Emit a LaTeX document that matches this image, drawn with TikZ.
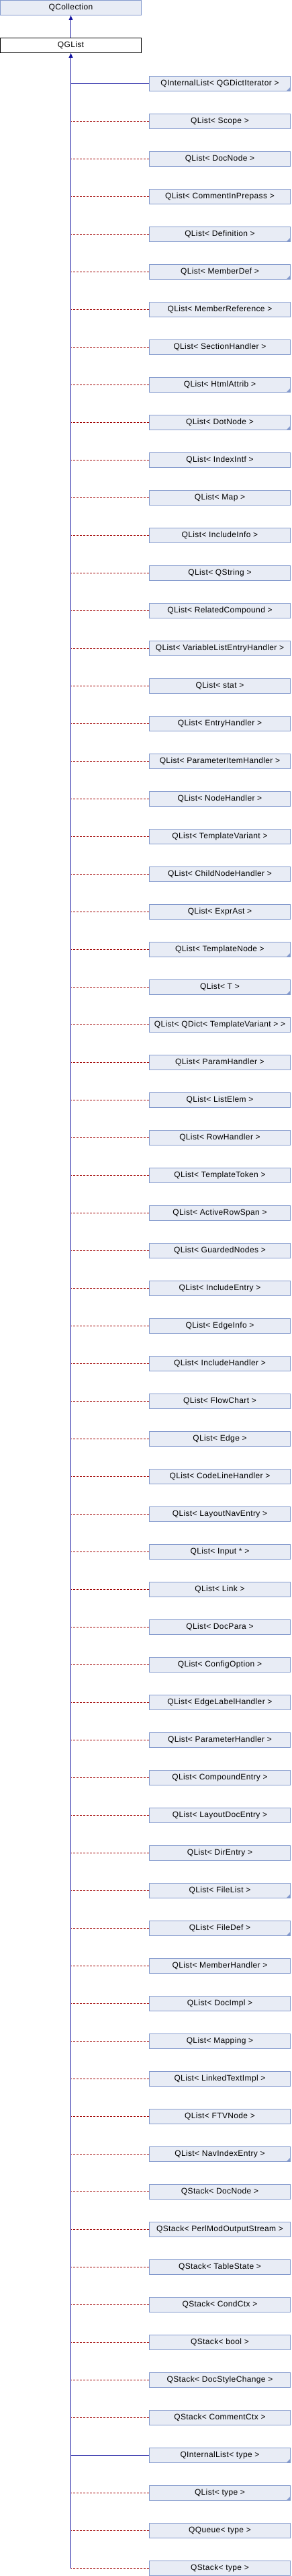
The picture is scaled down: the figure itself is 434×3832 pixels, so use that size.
\documentclass[tikz,border=0pt]{standalone}
\usepackage{fontspec}
\setmainfont{Liberation Sans}
\newfontfamily\doxfont[LetterSpace=3]{Liberation Sans}
\usetikzlibrary{positioning, arrows.meta}
\definecolor{boxfill}{RGB}{232,236,245}
\definecolor{boxline}{RGB}{132,154,205}
\definecolor{pubblue}{RGB}{20,20,160}
\definecolor{tmplred}{RGB}{160,0,0}
\tikzset{
    >={Triangle[length=7pt,width=6pt]}, % filled triangle heads
    node distance=56pt, % one row of the diagram
    cls/.style={
        rectangle, draw=boxline, fill=boxfill, line width=1pt, inner sep=0pt,
        minimum width=210pt, minimum height=22pt, font=\doxfont\fontsize{12}{14}\selectfont,
    },
    folded/.style={ % small corner for classes with more children
        path picture={\fill[boxline] (path picture bounding box.south east) -- ++(-6pt,0) -- ++(6pt,6pt) -- cycle;}
    },
}
\tikzset{pub/.style={draw=pubblue, line width=1pt},
    tmpl/.style={draw=tmplred, line width=1pt, dash pattern=on 3pt off 2pt}
}

\begin{document}
\begin{tikzpicture}[x=1pt, y=1pt]
        \useasboundingbox (0,0) rectangle (434,-3832);
        % Nodes
        \node[cls] (qcoll) at (105.5,-11.5) {QCollection};
        \node[cls, draw=black, fill=white, below of=qcoll] (qglist) {QGList};

        \node[cls, folded] (c1) at (327.5,-124.5) {QInternalList< QGDictIterator >};
        \node[cls, below of=c1] (c2) {QList< Scope >};
        \node[cls, below of=c2] (c3) {QList< DocNode >};
        \node[cls, below of=c3] (c4) {QList< CommentInPrepass >};
        \node[cls, folded, below of=c4] (c5) {QList< Definition >};
        \node[cls, folded, below of=c5] (c6) {QList< MemberDef >};
        \node[cls, below of=c6] (c7) {QList< MemberReference >};
        \node[cls, below of=c7] (c8) {QList< SectionHandler >};
        \node[cls, folded, below of=c8] (c9) {QList< HtmlAttrib >};
        \node[cls, folded, below of=c9] (c10) {QList< DotNode >};
        \node[cls, below of=c10] (c11) {QList< IndexIntf >};
        \node[cls, below of=c11] (c12) {QList< Map >};
        \node[cls, below of=c12] (c13) {QList< IncludeInfo >};
        \node[cls, below of=c13] (c14) {QList< QString >};
        \node[cls, below of=c14] (c15) {QList< RelatedCompound >};
        \node[cls, below of=c15] (c16) {QList< VariableListEntryHandler >};
        \node[cls, below of=c16] (c17) {QList< stat >};
        \node[cls, below of=c17] (c18) {QList< EntryHandler >};
        \node[cls, below of=c18] (c19) {QList< ParameterItemHandler >};
        \node[cls, below of=c19] (c20) {QList< NodeHandler >};
        \node[cls, below of=c20] (c21) {QList< TemplateVariant >};
        \node[cls, below of=c21] (c22) {QList< ChildNodeHandler >};
        \node[cls, below of=c22] (c23) {QList< ExprAst >};
        \node[cls, folded, below of=c23] (c24) {QList< TemplateNode >};
        \node[cls, folded, below of=c24] (c25) {QList< T >};
        \node[cls, below of=c25] (c26) {QList< QDict< TemplateVariant > >};
        \node[cls, below of=c26] (c27) {QList< ParamHandler >};
        \node[cls, below of=c27] (c28) {QList< ListElem >};
        \node[cls, below of=c28] (c29) {QList< RowHandler >};
        \node[cls, below of=c29] (c30) {QList< TemplateToken >};
        \node[cls, below of=c30] (c31) {QList< ActiveRowSpan >};
        \node[cls, below of=c31] (c32) {QList< GuardedNodes >};
        \node[cls, below of=c32] (c33) {QList< IncludeEntry >};
        \node[cls, below of=c33] (c34) {QList< EdgeInfo >};
        \node[cls, below of=c34] (c35) {QList< IncludeHandler >};
        \node[cls, below of=c35] (c36) {QList< FlowChart >};
        \node[cls, below of=c36] (c37) {QList< Edge >};
        \node[cls, below of=c37] (c38) {QList< CodeLineHandler >};
        \node[cls, below of=c38] (c39) {QList< LayoutNavEntry >};
        \node[cls, below of=c39] (c40) {QList< Input * >};
        \node[cls, below of=c40] (c41) {QList< Link >};
        \node[cls, below of=c41] (c42) {QList< DocPara >};
        \node[cls, below of=c42] (c43) {QList< ConfigOption >};
        \node[cls, below of=c43] (c44) {QList< EdgeLabelHandler >};
        \node[cls, below of=c44] (c45) {QList< ParameterHandler >};
        \node[cls, below of=c45] (c46) {QList< CompoundEntry >};
        \node[cls, below of=c46] (c47) {QList< LayoutDocEntry >};
        \node[cls, below of=c47] (c48) {QList< DirEntry >};
        \node[cls, folded, below of=c48] (c49) {QList< FileList >};
        \node[cls, folded, below of=c49] (c50) {QList< FileDef >};
        \node[cls, below of=c50] (c51) {QList< MemberHandler >};
        \node[cls, below of=c51] (c52) {QList< DocImpl >};
        \node[cls, below of=c52] (c53) {QList< Mapping >};
        \node[cls, below of=c53] (c54) {QList< LinkedTextImpl >};
        \node[cls, below of=c54] (c55) {QList< FTVNode >};
        \node[cls, folded, below of=c55] (c56) {QList< NavIndexEntry >};
        \node[cls, below of=c56] (c57) {QStack< DocNode >};
        \node[cls, below of=c57] (c58) {QStack< PerlModOutputStream >};
        \node[cls, below of=c58] (c59) {QStack< TableState >};
        \node[cls, below of=c59] (c60) {QStack< CondCtx >};
        \node[cls, below of=c60] (c61) {QStack< bool >};
        \node[cls, below of=c61] (c62) {QStack< DocStyleChange >};
        \node[cls, below of=c62] (c63) {QStack< CommentCtx >};
        \node[cls, folded, below of=c63] (c64) {QInternalList< type >};
        \node[cls, folded, below of=c64] (c65) {QList< type >};
        \node[cls, below of=c65] (c66) {QQueue< type >};
        \node[cls, below of=c66] (c67) {QStack< type >};

        % Draw lines
        \draw[pub, <-] (qcoll) -- (qglist);
        \draw[pub, <-] (qglist) -- (qglist |- c67.west);
        \draw
            (c1.west) edge[pub] (c1.west -| qglist.south)
            (c2.west) edge[tmpl] (c2.west -| qglist.south)
            (c3.west) edge[tmpl] (c3.west -| qglist.south)
            (c4.west) edge[tmpl] (c4.west -| qglist.south)
            (c5.west) edge[tmpl] (c5.west -| qglist.south)
            (c6.west) edge[tmpl] (c6.west -| qglist.south)
            (c7.west) edge[tmpl] (c7.west -| qglist.south)
            (c8.west) edge[tmpl] (c8.west -| qglist.south)
            (c9.west) edge[tmpl] (c9.west -| qglist.south)
            (c10.west) edge[tmpl] (c10.west -| qglist.south)
            (c11.west) edge[tmpl] (c11.west -| qglist.south)
            (c12.west) edge[tmpl] (c12.west -| qglist.south)
            (c13.west) edge[tmpl] (c13.west -| qglist.south)
            (c14.west) edge[tmpl] (c14.west -| qglist.south)
            (c15.west) edge[tmpl] (c15.west -| qglist.south)
            (c16.west) edge[tmpl] (c16.west -| qglist.south)
            (c17.west) edge[tmpl] (c17.west -| qglist.south)
            (c18.west) edge[tmpl] (c18.west -| qglist.south)
            (c19.west) edge[tmpl] (c19.west -| qglist.south)
            (c20.west) edge[tmpl] (c20.west -| qglist.south)
            (c21.west) edge[tmpl] (c21.west -| qglist.south)
            (c22.west) edge[tmpl] (c22.west -| qglist.south)
            (c23.west) edge[tmpl] (c23.west -| qglist.south)
            (c24.west) edge[tmpl] (c24.west -| qglist.south)
            (c25.west) edge[tmpl] (c25.west -| qglist.south)
            (c26.west) edge[tmpl] (c26.west -| qglist.south)
            (c27.west) edge[tmpl] (c27.west -| qglist.south)
            (c28.west) edge[tmpl] (c28.west -| qglist.south)
            (c29.west) edge[tmpl] (c29.west -| qglist.south)
            (c30.west) edge[tmpl] (c30.west -| qglist.south)
            (c31.west) edge[tmpl] (c31.west -| qglist.south)
            (c32.west) edge[tmpl] (c32.west -| qglist.south)
            (c33.west) edge[tmpl] (c33.west -| qglist.south)
            (c34.west) edge[tmpl] (c34.west -| qglist.south)
            (c35.west) edge[tmpl] (c35.west -| qglist.south)
            (c36.west) edge[tmpl] (c36.west -| qglist.south)
            (c37.west) edge[tmpl] (c37.west -| qglist.south)
            (c38.west) edge[tmpl] (c38.west -| qglist.south)
            (c39.west) edge[tmpl] (c39.west -| qglist.south)
            (c40.west) edge[tmpl] (c40.west -| qglist.south)
            (c41.west) edge[tmpl] (c41.west -| qglist.south)
            (c42.west) edge[tmpl] (c42.west -| qglist.south)
            (c43.west) edge[tmpl] (c43.west -| qglist.south)
            (c44.west) edge[tmpl] (c44.west -| qglist.south)
            (c45.west) edge[tmpl] (c45.west -| qglist.south)
            (c46.west) edge[tmpl] (c46.west -| qglist.south)
            (c47.west) edge[tmpl] (c47.west -| qglist.south)
            (c48.west) edge[tmpl] (c48.west -| qglist.south)
            (c49.west) edge[tmpl] (c49.west -| qglist.south)
            (c50.west) edge[tmpl] (c50.west -| qglist.south)
            (c51.west) edge[tmpl] (c51.west -| qglist.south)
            (c52.west) edge[tmpl] (c52.west -| qglist.south)
            (c53.west) edge[tmpl] (c53.west -| qglist.south)
            (c54.west) edge[tmpl] (c54.west -| qglist.south)
            (c55.west) edge[tmpl] (c55.west -| qglist.south)
            (c56.west) edge[tmpl] (c56.west -| qglist.south)
            (c57.west) edge[tmpl] (c57.west -| qglist.south)
            (c58.west) edge[tmpl] (c58.west -| qglist.south)
            (c59.west) edge[tmpl] (c59.west -| qglist.south)
            (c60.west) edge[tmpl] (c60.west -| qglist.south)
            (c61.west) edge[tmpl] (c61.west -| qglist.south)
            (c62.west) edge[tmpl] (c62.west -| qglist.south)
            (c63.west) edge[tmpl] (c63.west -| qglist.south)
            (c64.west) edge[pub] (c64.west -| qglist.south)
            (c65.west) edge[tmpl] (c65.west -| qglist.south)
            (c66.west) edge[tmpl] (c66.west -| qglist.south)
            (c67.west) edge[tmpl] (c67.west -| qglist.south)
        ;
    \end{tikzpicture}
\end{document}
